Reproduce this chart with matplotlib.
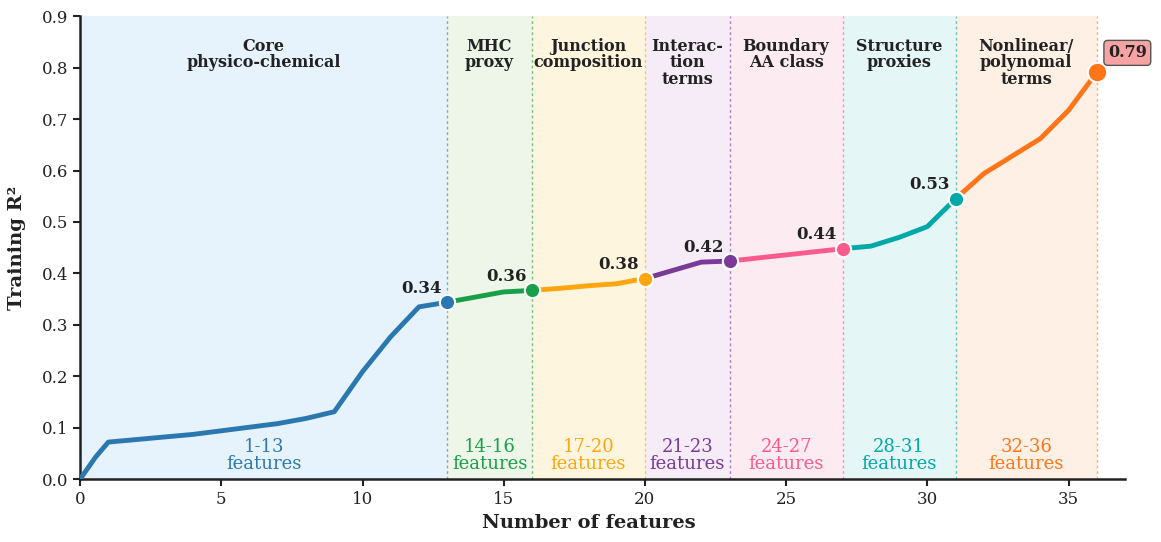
import matplotlib
matplotlib.use("Agg")
import matplotlib.pyplot as plt  # noqa: E402

# ---------------------------------------------------------------------------
# Data
# ---------------------------------------------------------------------------
n_features = [0, 0.55, 1, 2, 3, 4, 5, 6, 7, 8, 9, 10, 11, 12, 13,
              14, 15, 16, 17, 18, 19, 20, 21, 22, 23, 24, 25, 26, 27,
              28, 29, 30, 31, 32, 33, 34, 35, 36]
r2 = [0.0, 0.043, 0.072, 0.077, 0.082, 0.087, 0.094, 0.101, 0.108, 0.118,
      0.131, 0.209, 0.277, 0.335, 0.344,
      0.354, 0.364, 0.367, 0.371, 0.376, 0.380, 0.390,
      0.406, 0.422, 0.424, 0.430, 0.436, 0.442, 0.448,
      0.453, 0.470, 0.491, 0.545, 0.594, 0.628, 0.662, 0.717, 0.791]

group_start = [0, 13, 16, 20, 23, 27, 31]
group_end = [13, 16, 20, 23, 27, 31, 36]
group_titles = ["Core\nphysico-chemical", "MHC\nproxy", "Junction\ncomposition",
                "Interac-\ntion\nterms", "Boundary\nAA class", "Structure\nproxies",
                "Nonlinear/\npolynomal\nterms"]
group_ranges = ["1-13", "14-16", "17-20", "21-23", "24-27", "28-31", "32-36"]
end_labels = ["0.34", "0.36", "0.38", "0.42", "0.44", "0.53", "0.79"]

# ---------------------------------------------------------------------------
# Style
# ---------------------------------------------------------------------------
line_colors = ["#2b78b0", "#17a046", "#ffa60f", "#7a3a97", "#fb5a8c",
               "#00a8a8", "#ff7518"]
fill_colors = ["#e6f3fc", "#edf6e8", "#fef5df", "#f5ecf7", "#fdebf2",
               "#e5f6f7", "#fef0e4"]
TEXT = "#222222"

plt.rcParams["font.family"] = ["DejaVu Serif"]

fig = plt.figure(figsize=(11.61, 5.42), dpi=100)
ax = fig.add_axes([0.069, 0.116, 0.9, 0.854])

for i, (a, b) in enumerate(zip(group_start, group_end)):
    ax.axvspan(a, b, color=fill_colors[i], lw=0, zorder=0)
    ax.axvline(b, color=line_colors[i], lw=1, ls=(0, (2, 2)), alpha=0.6, zorder=1)

    xs = [x for x in n_features if a <= x <= b]
    ys = [y for x, y in zip(n_features, r2) if a <= x <= b]
    ax.plot(xs, ys, color=line_colors[i], lw=3.5, solid_capstyle="round", zorder=3)
    last = i == len(group_start) - 1
    ax.plot(xs[-1], ys[-1], "o", ms=14 if last else 11, color=line_colors[i],
            mec="white", mew=1.5, zorder=4)

    mid = (a + b) / 2
    ax.text(mid, 0.858, group_titles[i], ha="center", va="top", fontsize=11.5,
            fontweight="bold", color=TEXT, linespacing=0.95, zorder=5)
    ax.text(mid, 0.012, group_ranges[i] + "\nfeatures", ha="center", va="bottom",
            fontsize=13, color=line_colors[i], linespacing=0.95, zorder=5)

    if last:
        ax.annotate(end_labels[i], (xs[-1], ys[-1]), xytext=(22, 14),
                    textcoords="offset points", ha="center", va="center",
                    fontsize=11.5, fontweight="bold", color=TEXT, zorder=6,
                    bbox=dict(boxstyle="round,pad=0.25", fc="#f8a3a3",
                              ec="#555555", lw=1))
    else:
        ax.annotate(end_labels[i], (xs[-1], ys[-1]), xytext=(-4, 4),
                    textcoords="offset points", ha="right", va="bottom",
                    fontsize=12, fontweight="bold", color=TEXT, zorder=6)

ax.set_xlim(0, 37)
ax.set_ylim(0, 0.9)
ax.set_xticks([0, 5, 10, 15, 20, 25, 30, 35])
ax.set_yticks([i / 10 for i in range(10)])
ax.yaxis.set_major_formatter(matplotlib.ticker.FormatStrFormatter("%.1f"))
for s in ["top", "right"]:
    ax.spines[s].set_visible(False)
for s in ["left", "bottom"]:
    ax.spines[s].set_linewidth(1.8)
    ax.spines[s].set_color(TEXT)
ax.tick_params(labelsize=12, width=1.5, length=5, colors=TEXT)

ax.set_xlabel("Number of features", fontsize=14, fontweight="bold", color=TEXT)
ax.xaxis.set_label_coords(18 / 37, -0.075)
ax.set_ylabel("Training R\u00b2", fontsize=14, fontweight="bold", color=TEXT)
ax.yaxis.set_label_coords(-0.052, 0.5)

fig.savefig("out.png", dpi=100)
